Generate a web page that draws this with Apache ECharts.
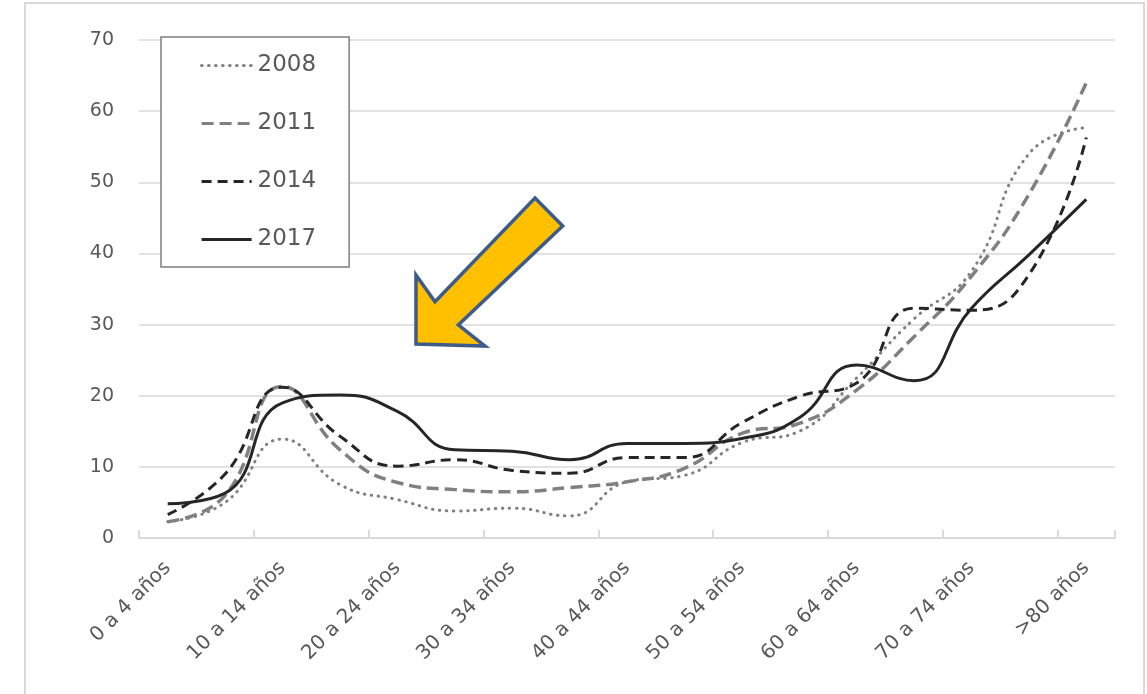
<!DOCTYPE html>
<html>
<head>
<meta charset="utf-8">
<script src="https://cdn.jsdelivr.net/npm/echarts@6/dist/echarts.min.js"></script>
<style>
  html, body { margin: 0; padding: 0; background: #fff; }
  #chart { width: 1147px; height: 694px; }
</style>
</head>
<body>
<div id="chart"></div>
<script>
// Age groups on the category axis
const categories = [
  "0 a 4 años", "5 a 9 años", "10 a 14 años", "15 a 19 años", "20 a 24 años",
  "25 a 29 años", "30 a 34 años", "35 a 39 años", "40 a 44 años", "45 a 49 años",
  "50 a 54 años", "55 a 59 años", "60 a 64 años", "65 a 69 años", "70 a 74 años",
  "75 a 79 años", ">80 años"
];

// Rates by age group, one array per survey year
const values2008 = [2.3, 5.0, 13.9, 7.5, 5.4, 3.8, 4.2, 3.1, 7.9, 8.8, 13.4, 15.0, 22.5, 30.8, 37.5, 54.0, 57.7];
const values2011 = [2.3, 6.0, 21.3, 12.4, 7.8, 6.8, 6.5, 7.1, 7.9, 9.8, 14.7, 16.1, 20.8, 28.3, 36.8, 48.3, 64.0];
const values2014 = [3.3, 9.0, 21.2, 14.3, 10.1, 11.0, 9.5, 9.1, 11.3, 11.3, 16.2, 19.9, 21.8, 32.3, 32.0, 37.0, 56.3];
const values2017 = [4.8, 6.3, 19.0, 20.1, 17.8, 12.4, 12.2, 11.0, 13.3, 13.3, 14.0, 16.9, 24.3, 22.1, 32.3, 39.8, 47.6];

const seriesNames = ["2008", "2011", "2014", "2017"];
const yTicks = { min: 0, max: 70, interval: 10 };

const FONT = "DejaVu Sans";
const TEXT = "#595959";
const GRID = "#d9d9d9";

function lineSeries(name, data, color, width, type, cap) {
  return {
    name: name,
    type: "line",
    data: data,
    smooth: 0.5,
    symbol: "none",
    lineStyle: { color: color, width: width, type: type, cap: cap || "butt" },
    itemStyle: { color: color },
    z: 3
  };
}

const chart = echarts.init(document.getElementById("chart"), null, { renderer: "canvas" });

chart.setOption({
  animation: false,
  backgroundColor: "#ffffff",
  grid: { left: 139, right: 32, top: 40, bottom: 156, containLabel: false },
  legend: {
    orient: "vertical",
    left: 161,
    top: 37,
    padding: [17, 33, 16, 39],
    itemWidth: 50,
    itemHeight: 24,
    itemGap: 35,
    backgroundColor: "#ffffff",
    borderColor: "#7f7f7f",
    borderWidth: 1.5,
    data: seriesNames,
    // line-only keys: hide the marker symbol drawn on top of each key line
    itemStyle: { opacity: 0 },
    lineStyle: { width: 3.2 },
    textStyle: { fontFamily: FONT, fontSize: 23, color: TEXT, padding: [0, 0, 0, 1] }
  },
  xAxis: {
    type: "category",
    data: categories,
    boundaryGap: true,
    axisLine: { lineStyle: { color: GRID, width: 2 } },
    axisTick: { show: true, inside: true, length: 8, interval: 1, lineStyle: { color: GRID, width: 2 } },
    axisLabel: {
      interval: 1,
      rotate: 45,
      margin: 27,
      fontFamily: FONT,
      fontSize: 20,
      color: TEXT
    },
    splitLine: { show: false }
  },
  yAxis: {
    type: "value",
    min: yTicks.min,
    max: yTicks.max,
    interval: yTicks.interval,
    axisLine: { show: false },
    axisTick: { show: false },
    axisLabel: { margin: 25, fontFamily: FONT, fontSize: 19, color: TEXT },
    splitLine: { lineStyle: { color: GRID, width: 1.5 } }
  },
  series: [
    lineSeries("2008", values2008, "#808080", 3, [0.5, 6.5], "round"),
    lineSeries("2011", values2011, "#808080", 3.5, [12, 6]),
    lineSeries("2014", values2014, "#262626", 3, [10, 6]),
    lineSeries("2017", values2017, "#262626", 3)
  ],
  graphic: [
    {
      // frame around the whole chart area
      type: "rect",
      silent: true,
      shape: { x: 25, y: 3, width: 1119, height: 720 },
      style: { fill: "none", stroke: "#d9d9d9", lineWidth: 2 },
      z: 0
    },
    {
      // call-out arrow pointing at the young-adult age groups
      type: "polygon",
      silent: true,
      shape: {
        points: [
          [535, 198], [562.7, 226], [458.3, 325], [485, 346],
          [416, 344], [416, 275], [435, 301.7]
        ]
      },
      style: { fill: "#FFC000", stroke: "#3E5C8A", lineWidth: 3.5, lineJoin: "miter" },
      z: 10
    }
  ]
});
</script>
</body>
</html>
